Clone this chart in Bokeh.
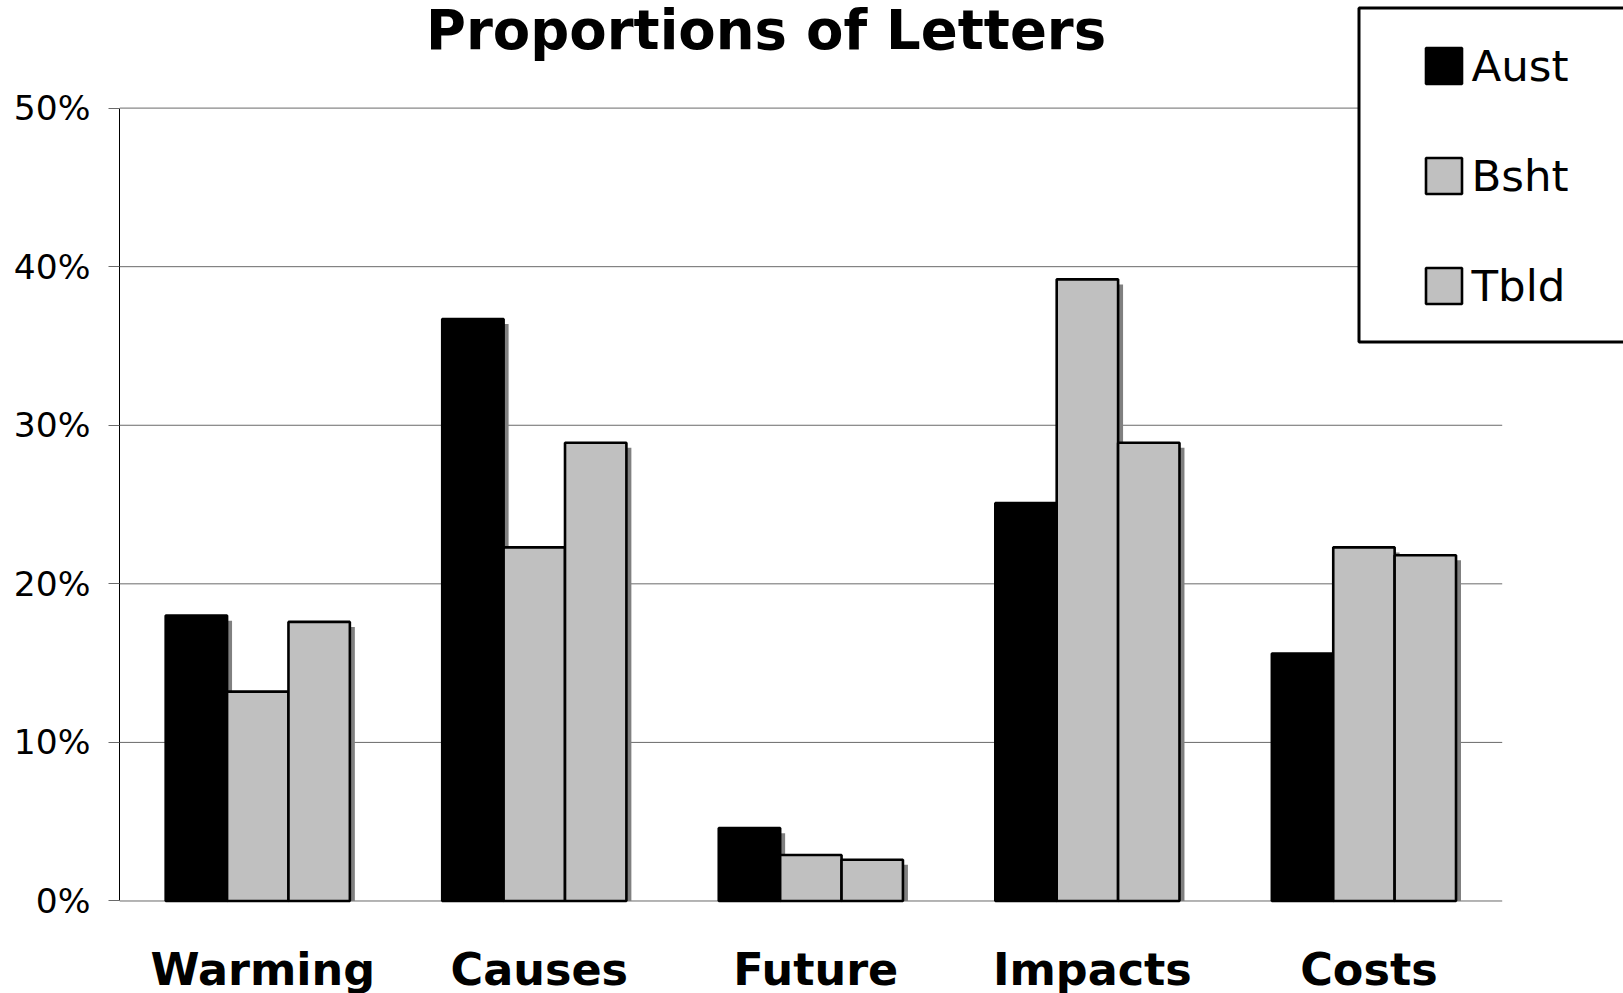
from bokeh.plotting import figure
from bokeh.core.properties import value
from bokeh.models import (ColumnDataSource, Range1d, FixedTicker, PrintfTickFormatter,
                          Legend, LegendItem, BoxAnnotation, Label)
from bokeh.transform import dodge
from bokeh.embed import file_html
from bokeh.resources import INLINE

# Share of letters (%) per topic, by newspaper
categories = ["Warming", "Causes", "Future", "Impacts", "Costs"]
aust = [18.0, 36.7, 4.6, 25.1, 15.6]
bsht = [13.2, 22.3, 2.9, 39.2, 22.3]
tbld = [17.6, 28.9, 2.6, 28.9, 21.8]
series_names = ["Aust", "Bsht", "Tbld"]
y_ticks = [0, 10, 20, 30, 40, 50]

FONT = "DejaVu Sans"
BAR_W = 0.222
SHADOW_DX = 0.018   # drop shadow, about 5 px right
SHADOW_DY = 0.32    # drop shadow, about 5 px down
GRID = "#6a6a6a"
LABEL_Y = -4.34     # baseline of the category names, below the zero line
LABEL_DX = 0.018    # category names sit a few px right of the group centre

n = len(categories)
xpos = [i + 0.5 for i in range(n)]
data = dict(x=xpos, cat=categories, aust=aust, bsht=bsht, tbld=tbld)
for key in ("aust", "bsht", "tbld"):
    data[key + "_sh"] = [v - SHADOW_DY for v in data[key]]
src = ColumnDataSource(data)

# plot area runs to the right and top edges so the legend box can sit there
p = figure(width=1623, height=993,
           x_range=Range1d(0, 5.4386), y_range=Range1d(-5.833, 56.785),
           x_axis_location=None,
           output_backend="svg", toolbar_location=None,
           min_border_left=119, min_border_right=0,
           min_border_top=0, min_border_bottom=0)

p.outline_line_color = None
p.background_fill_color = "white"
p.border_fill_color = "white"
p.xgrid.visible = False
p.ygrid.visible = False

# horizontal gridlines across the category area
p.segment(x0=0, x1=n, y0=y_ticks, y1=y_ticks, line_color=GRID, line_width=1)

styles = [("aust", "black"), ("bsht", "#C0C0C0"), ("tbld", "#C0C0C0")]
offsets = [-BAR_W, 0.0, BAR_W]
bars = []
for (key, fill), off in zip(styles, offsets):
    p.vbar(x=dodge("x", off + SHADOW_DX), top=key + "_sh", bottom=0,
           width=BAR_W, source=src, fill_color="#808080", line_color=None)
    r = p.vbar(x=dodge("x", off), top=key, bottom=0, width=BAR_W,
               source=src, fill_color=fill, line_color="black", line_width=2.6)
    bars.append(r)

# category names
p.text(x=dodge("x", LABEL_DX), y=LABEL_Y, text="cat", source=src,
       text_font=value(FONT), text_font_size="44.5px", text_font_style="bold",
       text_color="black", text_align="center", text_baseline="alphabetic")

# y axis
p.yaxis.bounds = (0, 50)
p.yaxis.ticker = FixedTicker(ticks=y_ticks)
p.yaxis.formatter = PrintfTickFormatter(format="%d%%")
p.yaxis.major_label_text_font = FONT
p.yaxis.major_label_text_font_size = "34.5px"
p.yaxis.major_label_text_color = "black"
p.yaxis.axis_line_color = "black"
p.yaxis.axis_line_width = 1
p.yaxis.major_tick_line_color = GRID
p.yaxis.major_tick_out = 11
p.yaxis.major_tick_in = 0
p.yaxis.minor_tick_line_color = None
p.yaxis.major_label_standoff = 18

# title
p.add_layout(Label(x=425.5, y=29.7, x_units="canvas", y_units="canvas",
                   text="Proportions of Letters", text_font=FONT,
                   text_font_size="54.5px", text_font_style="bold",
                   text_color="black", text_align="left",
                   text_baseline="alphabetic"))

# legend frame
box = BoxAnnotation(left=1358.5, right=1700, top=7.5, bottom=341.5,
                    left_units="canvas", right_units="canvas",
                    top_units="canvas", bottom_units="canvas",
                    fill_color="white", fill_alpha=1.0,
                    line_color="black", line_width=3, line_alpha=1.0)
p.add_layout(box)

legend = Legend(items=[LegendItem(label=s, renderers=[r]) for s, r in zip(series_names, bars)],
                location=(1301.5, 682.5), padding=0, spacing=60,
                glyph_width=45, glyph_height=45, label_standoff=6,
                label_text_font=FONT, label_text_font_size="43.5px",
                label_text_color="black",
                border_line_color=None, background_fill_alpha=0)
p.add_layout(legend)

open("out.html", "w").write(file_html(p, INLINE))
